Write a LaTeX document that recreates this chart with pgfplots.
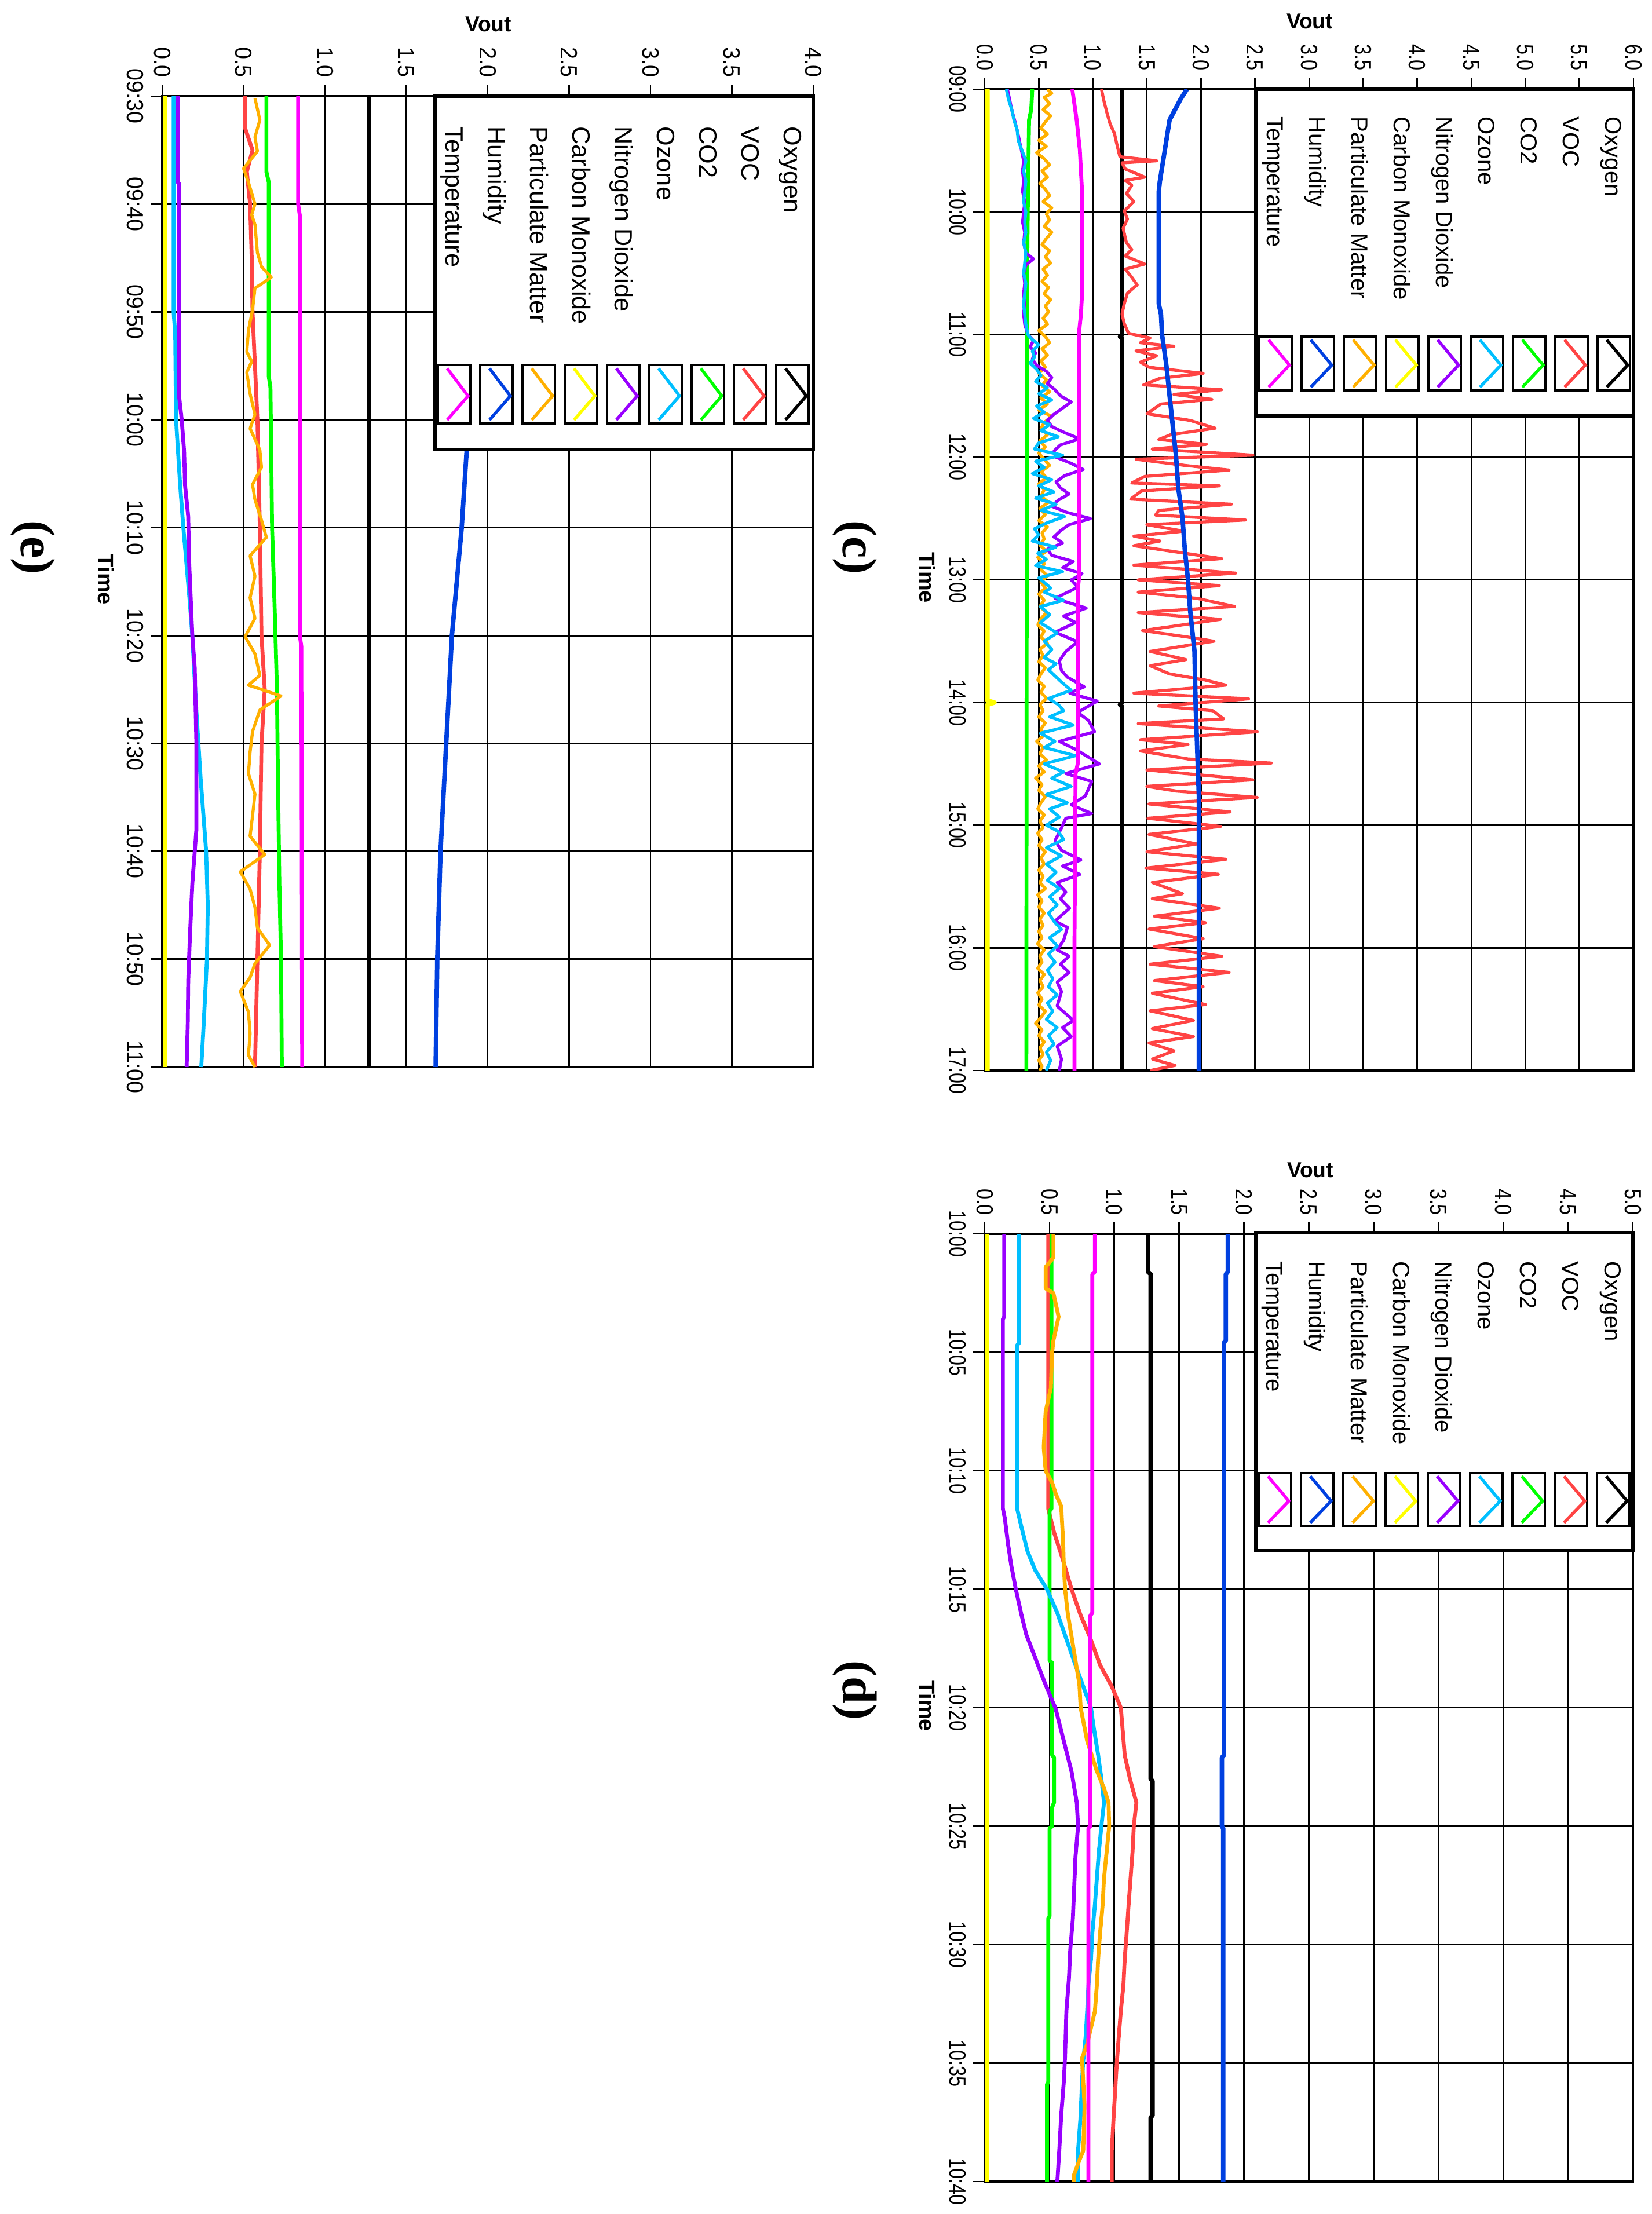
\documentclass[border=0pt]{standalone}
\usepackage{pgfplots}
\pgfplotsset{compat=1.18}
\usepackage{fontspec}
\setmainfont{Liberation Sans}
\newfontfamily\narrowsans[FakeStretch=0.8]{Liberation Sans}
\newfontfamily\widesans[FakeStretch=0.93]{Liberation Sans}
\newfontfamily\capserif{Liberation Serif}

\definecolor{cOxy}{RGB}{0,0,0}
\definecolor{cVOC}{RGB}{255,68,68}
\definecolor{cCO2}{RGB}{0,255,0}
\definecolor{cOzone}{RGB}{0,191,255}
\definecolor{cNO2}{RGB}{153,0,255}
\definecolor{cCO}{RGB}{255,255,0}
\definecolor{cPM}{RGB}{255,176,0}
\definecolor{cHum}{RGB}{0,64,224}
\definecolor{cTemp}{RGB}{255,0,255}

\pgfplotsset{
  panel/.style={
    scale only axis,
    at={(0,0)}, anchor=north west,
    y dir=reverse,
    xmin=0, ymin=0,
    grid=major,
    major grid style={black, line width=0.8pt},
    axis line style={black, line width=1.1pt},
    tick align=outside,
    major tick length=0.2cm,
    tick style={black, line width=0.8pt},
    xtick pos=right, ytick pos=left,
    xticklabel pos=right, yticklabel pos=left,
    xtick distance=0.5,
    xticklabel style={rotate=-90, anchor=east,
      /pgf/number format/fixed, /pgf/number format/fixed zerofill,
      /pgf/number format/precision=1,
      /pgf/number format/assume math mode=true},
    yticklabel style={rotate=-90, anchor=north},
    every axis plot/.append style={line width=1.9pt, line join=round},
  },
  thin noisy/.style={line width=1.5pt},
  thick line/.style={line width=2.2pt},
}

% legend: left, right, top, text offset, icon top, icon height, box height, font
\newcommand\legendbox[8]{%
  \fill[white] (#1,#3) rectangle (#2,#3-#7);
  \foreach \nm/\cl [count=\i from 0] in {Temperature/cTemp,Humidity/cHum,Particulate Matter/cPM,Carbon Monoxide/cCO,Nitrogen Dioxide/cNO2,Ozone/cOzone,CO2/cCO2,VOC/cVOC,Oxygen/cOxy}{
    \pgfmathsetmacro\cx{#1+0.33+0.73*\i}
    \node[rotate=-90, anchor=base west, inner sep=0pt, font=#8] at (\cx-0.15,#3-#4) {\nm};
    \draw[line width=0.9pt] (\cx-0.28,#3-#5) rectangle (\cx+0.28,#3-#5-#6);
    \draw[\cl, line width=1.5pt] (\cx-0.12,#3-#5-0.06*#6) -- (\cx+0.24,#3-#5-0.53*#6) -- (\cx-0.12,#3-#5-0.94*#6);
  }
  \draw[line width=1.8pt] (#1,#3) rectangle (#2,#3-#7);
}

\begin{document}
\begin{tikzpicture}
\path[use as bounding box] (0,0) rectangle (28.51,-38.22);

% ---------------- panel (c) ----------------
\begin{scope}[shift={(17.00,-1.54)}]
\begin{axis}[panel, width=11.20cm, height=16.94cm,
  xmax=6, ymax=480, ytick={0,60,...,480},
  yticklabels={09:00,10:00,11:00,12:00,13:00,14:00,15:00,16:00,17:00},
  tick label style={font=\fontsize{11.5}{12}\selectfont\narrowsans}]
\addplot[cOxy, thick line] coordinates {(1.27,0) (1.27,120) (1.25,121) (1.27,122) (1.27,300) (1.25,301) (1.27,302) (1.27,480)};
\addplot[cVOC, thin noisy] coordinates {
(1.08,0) (1.10,5.2) (1.13,11.5) (1.16,17) (1.20,21.7) (1.22,26.5) (1.25,33) (1.59,35) (1.27,36) (1.30,39) (1.48,43) (1.30,44.6) (1.36,47) (1.31,51) (1.38,55) (1.29,59.5) (1.32,63.5) (1.28,68) (1.31,75) (1.36,78.4) (1.30,81.6) (1.48,85.5) (1.30,88) (1.36,92) (1.41,95.7) (1.32,99.7) (1.29,105) (1.27,110) (1.29,114.6) (1.33,119.4)
(1.53,121.7) (1.44,124) (1.75,125.7) (1.40,128) (1.59,130.4) (1.44,133.5) (1.52,136) (2.02,139) (1.62,141.4) (1.47,144.6) (2.19,147) (1.75,149.3) (2.10,151.7) (1.63,154) (1.50,158.7) (1.90,162) (2.13,165.8) (1.72,169) (1.61,171.3) (2.05,173.7) (1.55,176) (2.48,179) (1.40,181) (1.85,184) (2.26,186.3) (1.48,189.4) (1.36,192.6) (2.17,194) (1.45,196.5) (1.35,200.5) (2.28,203) (1.61,206) (1.58,208.3) (2.41,210.7) (1.50,213) (1.84,216.2) (1.38,218.6) (1.62,221) (1.38,223.3) (2.19,229.6) (1.38,232.8) (2.32,236.7) (1.42,240)
(2.17,242.8) (1.42,246) (1.96,249) (2.31,253) (1.42,256) (2.18,259.3) (1.78,262.4) (1.46,264.8) (1.88,268) (2.12,270) (1.53,275) (1.86,279) (1.53,282) (1.71,286) (2.04,289) (2.23,291.5) (1.38,295.4) (2.44,298.2) (1.61,301.7) (2.11,304) (2.21,308) (1.42,310.3) (2.52,314.3) (1.44,318.2) (1.88,320.5) (1.44,323.7) (1.88,327.6) (2.65,329.6) (1.50,333) (2.48,337.8) (1.50,341) (1.77,343.3) (2.52,346.4) (1.52,349.6) (2.27,353.5) (1.51,356.6) (2.18,360.6) (1.52,364.5) (1.96,369.2) (1.50,373) (2.23,376.7) (1.49,381) (2.16,384) (1.55,388) (1.83,393.5) (1.55,395.9) (2.17,400.6) (1.57,404.5) (2.04,407.7) (1.52,410.8) (2.02,415.5) (1.57,419.4) (2.19,424.1) (1.53,428) (2.26,432) (1.57,436) (2.02,439) (1.55,442.2) (2.04,447.7) (1.53,450.8) (1.93,455.5) (1.55,459.5) (1.93,463.4) (1.52,466.5) (1.75,470.4) (1.55,474.4) (1.76,477.5) (1.53,480)};
\addplot[cCO2] coordinates {(0.44,0) (0.43,10) (0.41,15) (0.40,50) (0.39,100) (0.385,480)};
\addplot[cPM, thin noisy] coordinates {
(0.58,0) (0.62,2) (0.55,4) (0.60,7) (0.54,10) (0.61,13) (0.56,16) (0.52,19) (0.58,22) (0.50,25) (0.57,28) (0.48,31) (0.55,34) (0.60,37) (0.53,40) (0.58,43) (0.51,46) (0.56,49) (0.60,52) (0.54,55) (0.62,58) (0.57,61) (0.60,64) (0.55,67) (0.62,70) (0.57,73) (0.53,76) (0.60,79) (0.56,82) (0.61,85) (0.54,88) (0.58,91) (0.53,94) (0.59,97) (0.55,100) (0.61,103) (0.56,106) (0.59,109) (0.54,112) (0.58,115) (0.50,118) (0.56,121) (0.60,124) (0.53,127) (0.58,130) (0.52,133) (0.56,136) (0.50,139) (0.57,142) (0.53,145) (0.60,148) (0.52,151) (0.58,154) (0.50,157) (0.62,160) (0.55,163) (0.52,166) (0.58,169) (0.51,172) (0.56,175) (0.50,178) (0.55,181) (0.60,184) (0.52,187) (0.57,190) (0.50,193) (0.55,196) (0.52,199) (0.59,202) (0.51,205) (0.56,208) (0.50,211) (0.58,214) (0.53,217) (0.55,220) (0.51,223) (0.57,226) (0.49,229) (0.55,232) (0.52,235) (0.58,238)
(0.52,241) (0.56,244) (0.50,247) (0.55,250) (0.51,253) (0.57,256) (0.52,259) (0.49,262) (0.55,265) (0.52,268) (0.58,271) (0.51,274) (0.54,277) (0.50,280) (0.56,283) (0.52,286) (0.49,289) (0.55,292) (0.52,295) (0.57,298) (0.51,301) (0.54,304) (0.50,307) (0.56,310) (0.52,313) (0.55,316) (0.48,319) (0.54,322) (0.51,325) (0.57,328) (0.50,331) (0.55,334) (0.47,337) (0.53,340) (0.50,343) (0.56,346) (0.52,349) (0.49,352) (0.55,355) (0.51,358) (0.54,361) (0.49,364) (0.53,367) (0.50,370) (0.56,373) (0.52,376) (0.55,379) (0.50,382) (0.54,385) (0.51,388) (0.56,391) (0.49,394) (0.53,397) (0.50,400) (0.55,403) (0.51,406) (0.54,409) (0.50,412) (0.53,415) (0.49,418) (0.55,421) (0.51,424) (0.53,427) (0.49,430) (0.55,433) (0.51,436) (0.54,439) (0.49,442) (0.53,445) (0.50,448) (0.56,451) (0.52,454) (0.47,457) (0.53,460) (0.50,463) (0.55,466) (0.51,469) (0.54,472) (0.50,475) (0.53,478) (0.51,480)};
\addplot[cNO2, thin noisy] coordinates {
(0.21,0) (0.25,10) (0.30,20) (0.34,30) (0.36,35) (0.35,40) (0.36,45) (0.35,50) (0.37,55) (0.36,60) (0.35,65) (0.37,70) (0.36,75) (0.38,80) (0.45,83) (0.38,86) (0.36,90) (0.37,95) (0.36,100) (0.37,105) (0.36,110) (0.37,115) (0.40,120) (0.45,123) (0.42,126) (0.47,129) (0.44,132) (0.48,135) (0.57,138) (0.62,141) (0.58,144) (0.65,147) (0.70,150) (0.80,153) (0.72,156) (0.64,159) (0.58,162) (0.62,165) (0.74,168) (0.88,171) (0.70,174) (0.64,177) (0.66,180) (0.80,183) (0.91,186) (0.74,189) (0.66,192) (0.70,195) (0.78,198) (0.68,201) (0.62,204) (0.76,207) (0.98,210) (0.78,213) (0.70,216) (0.64,219) (0.72,222) (0.58,225) (0.62,228) (0.82,231) (0.72,234) (0.90,237) (0.80,240)
(0.86,243.6) (0.65,249.1) (0.94,253.8) (0.73,257.7) (0.84,260.9) (0.65,265.6) (0.86,270.3) (0.75,275) (0.69,279.7) (0.71,284.4) (0.765,287.6) (0.92,292.3) (0.785,295.4) (1.04,299.3) (0.86,304.8) (0.96,308.8) (1.015,314.3) (0.69,319) (0.84,322.9) (1.06,330) (0.75,334.7) (0.99,338.6) (0.93,345.7) (0.80,350) (0.99,354.3) (0.75,356.6) (0.71,361.3) (0.65,367.6) (0.71,372.3) (0.89,377) (0.72,380) (0.88,384.1) (0.67,388) (0.75,392.7) (0.70,396) (0.785,400.6) (0.65,406.9) (0.765,410) (0.73,416.3) (0.67,421) (0.78,424.1) (0.70,428) (0.78,432) (0.67,436.7) (0.71,441.4) (0.67,448.5) (0.82,455.5) (0.72,459) (0.80,463.4) (0.67,468.1) (0.71,474.4) (0.69,480)};
\addplot[cOzone, thin noisy] coordinates {
(0.20,0) (0.22,5) (0.25,10) (0.27,15) (0.30,20) (0.31,25) (0.33,28) (0.36,32) (0.38,35) (0.36,40) (0.38,45) (0.37,50) (0.36,55) (0.38,60) (0.37,65) (0.38,70) (0.36,75) (0.38,80) (0.37,85) (0.36,90) (0.38,95) (0.37,100) (0.36,105) (0.37,110) (0.38,115) (0.40,120) (0.43,122) (0.50,125) (0.44,128) (0.46,131) (0.42,134) (0.48,137) (0.52,140) (0.47,143) (0.58,146) (0.50,149) (0.62,152) (0.48,155) (0.55,158) (0.45,161) (0.60,164) (0.52,167) (0.68,170) (0.50,173) (0.46,176) (0.72,179) (0.47,182) (0.55,185) (0.44,188) (0.62,191) (0.50,194) (0.64,197) (0.47,200) (0.66,203) (0.52,206) (0.74,209) (0.58,212) (0.46,215) (0.50,218) (0.44,221) (0.66,224) (0.49,227) (0.57,230) (0.47,233) (0.72,236) (0.50,239)
(0.61,244) (0.55,246) (0.73,250) (0.515,253) (0.60,257) (0.515,261) (0.67,266) (0.55,270) (0.62,274) (0.55,278) (0.66,281) (0.59,284) (0.71,290) (0.80,294) (0.59,298) (0.68,301) (0.73,304) (0.60,307) (0.82,311) (0.515,315) (0.65,319) (0.55,322) (0.84,326) (0.55,330) (0.73,334) (0.62,337) (0.80,341) (0.57,345) (0.765,349) (0.60,352) (0.69,356) (0.57,360) (0.68,363) (0.73,367) (0.57,371) (0.71,375) (0.57,379) (0.66,383) (0.58,387) (0.69,391) (0.60,395) (0.67,399) (0.59,403) (0.64,407) (0.71,411) (0.60,415) (0.67,419) (0.59,423) (0.65,427) (0.58,431) (0.63,435) (0.59,439) (0.67,443) (0.58,447) (0.63,451) (0.57,455) (0.67,459) (0.59,463) (0.64,467) (0.57,471) (0.61,475) (0.57,480)};
\addplot[cCO, thick line] coordinates {(0.025,0) (0.025,299) (0.09,300) (0.025,301) (0.025,480)};
\addplot[cHum, thick line] coordinates {(1.87,0) (1.81,5) (1.76,10) (1.71,15) (1.68,25) (1.65,35) (1.62,45) (1.61,50) (1.61,105) (1.63,110) (1.64,120) (1.68,135) (1.71,150) (1.74,165) (1.77,180) (1.79,195) (1.83,210) (1.85,225) (1.88,240) (1.90,255) (1.92,265) (1.94,275) (1.95,300) (1.96,315) (1.97,330) (1.98,345) (1.98,480)};
\addplot[cTemp] coordinates {(0.81,0) (0.85,15) (0.88,30) (0.90,50) (0.90,100) (0.89,110) (0.88,115) (0.87,120) (0.87,240) (0.86,245) (0.86,330) (0.84,335) (0.83,420) (0.83,480)};
\end{axis}
\end{scope}

% ---------------- panel (d) ----------------
\begin{scope}[shift={(17.00,-21.30)}]
\begin{axis}[panel, width=11.19cm, height=16.36cm,
  xmax=5, ymax=40, ytick={0,5,...,40},
  yticklabels={10:00,10:05,10:10,10:15,10:20,10:25,10:30,10:35,10:40},
  tick label style={font=\fontsize{11.5}{12}\selectfont\narrowsans}]
\addplot[cOxy, thick line] coordinates {(1.26,0) (1.26,1.6) (1.28,1.7) (1.28,23) (1.295,23.1) (1.295,37.2) (1.28,37.3) (1.28,40)};
\addplot[cVOC] coordinates {(0.49,0) (0.49,11.6) (0.535,12.6) (0.60,13.7) (0.67,15) (0.74,16.1) (0.81,17) (0.89,18.2) (0.98,19.1) (1.05,20) (1.08,22) (1.12,23) (1.17,24) (1.15,25) (1.14,26.1) (1.125,27.2) (1.11,28.3) (1.095,29.5) (1.08,30.6) (1.07,31.7) (1.05,32.8) (1.035,33.8) (1.02,34.9) (1.01,35.8) (0.995,37.2) (0.98,38.7) (0.98,40)};
\addplot[cCO2] coordinates {(0.515,0) (0.515,11.6) (0.50,11.7) (0.50,18) (0.52,18.1) (0.52,22) (0.535,22.1) (0.535,24) (0.52,24.2) (0.52,25) (0.50,25.1) (0.50,28.8) (0.49,28.9) (0.49,35.8) (0.48,35.9) (0.48,40)};
\addplot[cOzone] coordinates {(0.265,0) (0.265,4.6) (0.25,4.7) (0.25,11.6) (0.28,12.3) (0.33,13.4) (0.39,14.2) (0.48,15) (0.56,16) (0.63,17.1) (0.70,18.2) (0.76,19.1) (0.82,20) (0.84,20.8) (0.875,22) (0.90,23) (0.92,24) (0.90,25) (0.88,26.1) (0.865,27.2) (0.85,28.3) (0.83,29.5) (0.82,30.6) (0.80,31.7) (0.79,32.8) (0.78,33.8) (0.76,34.9) (0.75,35.8) (0.74,37.2) (0.72,38.7) (0.72,40)};
\addplot[cNO2] coordinates {(0.15,0) (0.15,3.5) (0.14,3.6) (0.14,11.6) (0.155,12) (0.18,13.1) (0.205,14) (0.24,15) (0.28,16) (0.32,16.9) (0.39,17.9) (0.46,18.9) (0.52,19.7) (0.545,20) (0.61,21.4) (0.67,22.7) (0.71,24) (0.72,25) (0.70,26.3) (0.69,27.6) (0.68,28.9) (0.66,30.2) (0.65,31.4) (0.63,32.8) (0.62,34.7) (0.61,35.8) (0.59,37.2) (0.575,38.7) (0.56,40)};
\addplot[cCO, thick line] coordinates {(0.012,0) (0.012,40)};
\addplot[cPM] coordinates {(0.53,0) (0.53,1) (0.47,1.4) (0.47,2.3) (0.53,2.5) (0.57,3.5) (0.53,4.5) (0.52,5) (0.51,6.5) (0.47,7.5) (0.455,9) (0.47,10) (0.52,10.5) (0.55,11) (0.59,11.5) (0.605,13) (0.61,14) (0.62,15) (0.64,16) (0.67,17) (0.70,18) (0.73,19) (0.74,20) (0.79,21.4) (0.86,22.6) (0.92,23.4) (0.955,24) (0.96,25) (0.94,26.1) (0.92,27.2) (0.91,28.3) (0.89,29.5) (0.875,30.6) (0.865,31.7) (0.85,32.8) (0.82,33.5) (0.79,34.2) (0.75,34.8) (0.77,36.8) (0.76,38.7) (0.73,39.1) (0.69,39.7) (0.69,40)};
\addplot[cHum, thick line] coordinates {(1.875,0) (1.875,1.6) (1.86,1.7) (1.86,4.5) (1.845,4.6) (1.845,22) (1.83,22.1) (1.83,25) (1.84,25.1) (1.84,40)};
\addplot[cTemp] coordinates {(0.85,0) (0.85,1.6) (0.83,1.7) (0.83,16) (0.815,16.1) (0.815,25) (0.80,25.1) (0.80,40)};
\end{axis}
\end{scope}

% ---------------- panel (e) ----------------
\begin{scope}[shift={(2.80,-1.66)}]
\begin{axis}[panel, width=11.24cm, height=16.76cm,
  xmax=4, ymax=90, ytick={0,10,...,90},
  yticklabels={09:30,09:40,09:50,10:00,10:10,10:20,10:30,10:40,10:50,11:00},
  tick label style={font=\fontsize{11.5}{12}\selectfont\widesans}]
\addplot[cOxy, thick line] coordinates {(1.27,0) (1.27,90)};
\addplot[cVOC] coordinates {(0.51,0) (0.51,3) (0.555,5) (0.52,7) (0.54,10) (0.55,15) (0.555,20) (0.57,25) (0.585,30) (0.60,40) (0.61,50) (0.63,55) (0.61,60) (0.60,70) (0.585,80) (0.57,90)};
\addplot[cCO2] coordinates {(0.64,0) (0.64,7) (0.655,8) (0.655,26) (0.665,27) (0.675,40) (0.69,47) (0.705,55) (0.71,62) (0.72,73) (0.73,80) (0.735,90)};
\addplot[cOzone] coordinates {(0.07,0) (0.07,20) (0.08,22) (0.085,30) (0.11,36) (0.13,40) (0.17,47) (0.185,50) (0.21,57) (0.235,63) (0.255,67) (0.27,70) (0.28,75) (0.275,80) (0.255,86) (0.24,90)};
\addplot[cNO2] coordinates {(0.095,0) (0.095,8) (0.105,8.1) (0.105,28) (0.12,30) (0.135,33) (0.14,36) (0.16,39) (0.165,43) (0.185,50) (0.20,53) (0.21,60) (0.21,68) (0.20,70) (0.185,73) (0.17,78) (0.16,82) (0.157,86) (0.15,90)};
\addplot[cCO, thick line] coordinates {(0.02,0) (0.02,90)};
\addplot[cPM, thin noisy] coordinates {(0.57,0.2) (0.60,2.2) (0.57,3.8) (0.585,5.1) (0.50,6.7) (0.53,8) (0.57,10) (0.55,11) (0.57,11.9) (0.585,14.5) (0.61,15.8) (0.67,16.8) (0.57,17.8) (0.555,19.8) (0.53,21.7) (0.52,23.7) (0.55,24.6) (0.52,25.6) (0.54,27.6) (0.57,29.5) (0.54,30.8) (0.60,32.8) (0.61,34.4) (0.555,36) (0.57,37.4) (0.61,39.3) (0.64,40.9) (0.54,42.6) (0.57,44.5) (0.54,46.5) (0.57,48.4) (0.51,50.1) (0.57,51.7) (0.60,53.7) (0.53,54.6) (0.73,55.6) (0.60,56.9) (0.555,58.9) (0.54,60.8) (0.53,62.8) (0.57,64.7) (0.555,66.7) (0.54,68.6) (0.63,70.3) (0.48,71.9) (0.54,73.5) (0.57,75.2) (0.585,77.1) (0.66,78.7) (0.57,80.4) (0.54,81.7) (0.48,83) (0.53,84.9) (0.54,86.9) (0.53,88.9) (0.57,90)};
\addplot[cHum, thick line] coordinates {(1.97,0) (1.87,33) (1.84,40) (1.78,50) (1.745,60) (1.71,70) (1.69,80) (1.68,90)};
\addplot[cTemp] coordinates {(0.835,0) (0.835,10) (0.845,11) (0.845,50) (0.855,51) (0.86,90)};
\end{axis}
\end{scope}

% legends
\legendbox{21.69}{28.20}{-1.54}{0.47}{4.27}{0.93}{5.64}{\fontsize{11.4}{13}\selectfont}
\legendbox{21.68}{28.19}{-21.28}{0.49}{4.15}{0.91}{5.49}{\fontsize{11.4}{13}\selectfont}
\legendbox{7.51}{14.04}{-1.66}{0.52}{4.64}{1.01}{6.10}{\fontsize{12.3}{14}\selectfont}

% axis titles and captions
\node[anchor=base, font=\fontsize{10.6}{12}\selectfont\bfseries] at (22.61,-0.50) {Vout};
\node[anchor=base, font=\fontsize{10.6}{12}\selectfont\bfseries] at (22.62,-20.32) {Vout};
\node[anchor=base, font=\fontsize{10.6}{12}\selectfont\bfseries] at (8.43,-0.55) {Vout};
\node[rotate=-90, font=\fontsize{10.8}{12}\selectfont\bfseries] at (16.01,-9.97) {Time};
\node[rotate=-90, font=\fontsize{10.8}{12}\selectfont\bfseries] at (16.01,-29.45) {Time};
\node[rotate=-90, font=\fontsize{10.8}{12}\selectfont\bfseries] at (1.83,-10.00) {Time};
\node[rotate=-90, font=\fontsize{24}{28}\selectfont\capserif\bfseries] at (14.76,-9.45) {(c)};
\node[rotate=-90, font=\fontsize{24}{28}\selectfont\capserif\bfseries] at (14.76,-29.18) {(d)};
\node[rotate=-90, font=\fontsize{24}{28}\selectfont\capserif\bfseries] at (0.57,-9.45) {(e)};
\end{tikzpicture}
\end{document}
